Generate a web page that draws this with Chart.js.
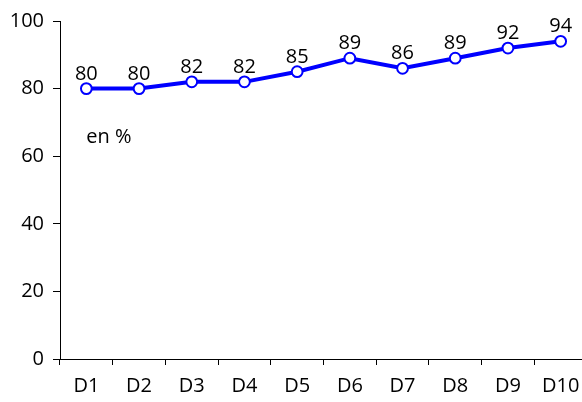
<!DOCTYPE html>
<html>
<head>
<meta charset="utf-8">
<script src="https://cdn.jsdelivr.net/npm/chart.js@4/dist/chart.umd.min.js"></script>
<style>
  html, body { margin: 0; padding: 0; background: #fff; overflow: hidden; }
  #wrap { width: 600px; height: 402px; }
</style>
</head>
<body>
<div id="wrap"><canvas id="chart" width="600" height="402"></canvas></div>
<script>
const categories = ['D1', 'D2', 'D3', 'D4', 'D5', 'D6', 'D7', 'D8', 'D9', 'D10'];
const shareValues = [80, 80, 82, 82, 85, 89, 86, 89, 92, 94];
const yTicks = [0, 20, 40, 60, 80, 100];
const unitNote = 'en %';

const fontFamily = "'Open Sans', 'Noto Sans', sans-serif";
const fontSize = 20;
const lineBlue = '#0000ff';

// value labels above each point
const pointLabelPlugin = {
  id: 'pointLabels',
  afterDatasetsDraw(chart) {
    const { ctx } = chart;
    const meta = chart.getDatasetMeta(0);
    const values = chart.data.datasets[0].data;
    ctx.save();
    ctx.fillStyle = '#000';
    ctx.font = `${fontSize}px ${fontFamily}`;
    ctx.textAlign = 'center';
    ctx.textBaseline = 'alphabetic';
    meta.data.forEach((pt, i) => {
      ctx.fillText(String(values[i]), pt.x, pt.y - 9);
    });

    // unit note under the first points
    const xs = chart.scales.x;
    const ys = chart.scales.y;
    ctx.textAlign = 'left';
    ctx.fillText(unitNote, xs.getPixelForValue(0), ys.getPixelForValue(64));
    ctx.restore();
  },
};

new Chart(document.getElementById('chart'), {
  type: 'line',
  data: {
    labels: categories,
    datasets: [
      {
        data: shareValues,
        borderColor: lineBlue,
        borderWidth: 4,
        pointRadius: 5.4,
        pointBorderWidth: 2,
        pointBackgroundColor: '#fff',
        pointBorderColor: lineBlue,
        tension: 0,
      },
    ],
  },
  plugins: [pointLabelPlugin],
  options: {
    responsive: false,
    animation: false,
    layout: { padding: { top: 20, right: 13, left: 0, bottom: 0 } },
    plugins: {
      legend: { display: false },
      tooltip: { enabled: false },
    },
    scales: {
      x: {
        offset: true,
        grid: {
          offset: true,
          drawOnChartArea: false,
          drawTicks: true,
          tickLength: 6,
          color: '#000',
        },
        border: { display: true, color: '#000', width: 1 },
        ticks: {
          color: '#000',
          padding: 9,
          maxRotation: 0,
          autoSkip: false,
          font: { family: fontFamily, size: fontSize },
        },
        afterFit(scale) {
          scale.height = 43;
        },
      },
      y: {
        min: 0,
        max: 100,
        afterBuildTicks(scale) {
          scale.ticks = yTicks.map((v) => ({ value: v }));
        },
        grid: {
          drawOnChartArea: false,
          drawTicks: true,
          tickLength: 7,
          color: '#000',
        },
        border: { display: true, color: '#000', width: 1 },
        ticks: {
          color: '#000',
          padding: 9,
          font: { family: fontFamily, size: fontSize },
        },
        afterFit(scale) {
          scale.width = 60;
        },
      },
    },
  },
});
</script>
</body>
</html>
